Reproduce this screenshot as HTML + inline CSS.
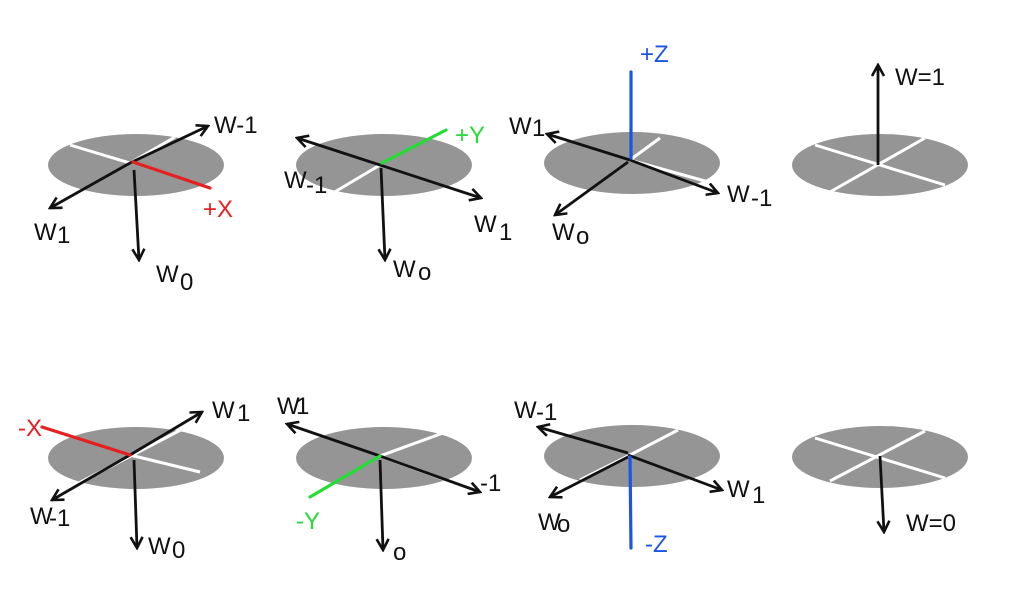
<!DOCTYPE html>
<html><head><meta charset="utf-8"><style>
html,body{margin:0;padding:0;background:#fff;width:1024px;height:601px;overflow:hidden}
svg text{font-family:"Liberation Sans",sans-serif;font-size:24px}
</style></head><body>
<svg width="1024" height="601" viewBox="0 0 1024 601">
<defs>
<marker id="a" viewBox="0 0 14 14" refX="12" refY="7" markerWidth="14" markerHeight="14" markerUnits="userSpaceOnUse" orient="auto">
<path d="M1,1 L12,7 L1,13" fill="none" stroke="#111" stroke-width="2.6"/></marker>
</defs>
<g fill="#959595">
<ellipse cx="136" cy="165" rx="88" ry="31"/>
<ellipse cx="384" cy="165" rx="88" ry="31"/>
<ellipse cx="632" cy="163" rx="88" ry="31"/>
<ellipse cx="880" cy="165" rx="88" ry="31"/>
<ellipse cx="136" cy="458" rx="88" ry="31"/>
<ellipse cx="384" cy="458" rx="88" ry="31"/>
<ellipse cx="632" cy="456" rx="88" ry="31"/>
<ellipse cx="880" cy="457" rx="88" ry="31"/>
</g>
<g stroke="#fff" stroke-width="3">
<line x1="70" y1="145" x2="130" y2="163"/><line x1="130" y1="163" x2="175" y2="137"/>
<line x1="333" y1="193" x2="380" y2="165"/>
<line x1="660" y1="138" x2="630" y2="160"/><line x1="630" y1="160" x2="712" y2="183"/>
<line x1="815" y1="145" x2="945" y2="185"/><line x1="925" y1="138" x2="830" y2="192"/>
<line x1="130" y1="455" x2="200" y2="472"/><line x1="75" y1="485" x2="200" y2="420"/>
<line x1="380" y1="456" x2="465" y2="425"/><line x1="380" y1="456" x2="465" y2="487"/>
<line x1="630" y1="455" x2="678" y2="430"/><line x1="580" y1="480" x2="630" y2="455"/>
<line x1="815" y1="438" x2="945" y2="478"/><line x1="925" y1="431" x2="830" y2="481"/>
</g>
<g stroke="#111" stroke-width="2.8" fill="none" marker-end="url(#a)">
<line x1="130" y1="163" x2="208" y2="126"/>
<line x1="130" y1="163" x2="50" y2="208"/>
<line x1="134" y1="170" x2="139" y2="260"/>
<line x1="380" y1="165" x2="297" y2="138"/>
<line x1="380" y1="165" x2="481" y2="198"/>
<line x1="381" y1="168" x2="385" y2="260"/>
<line x1="630" y1="160" x2="547" y2="134"/>
<line x1="630" y1="160" x2="718" y2="193"/>
<line x1="628" y1="162" x2="555" y2="215"/>
<line x1="878" y1="165" x2="878" y2="65"/>
<line x1="130" y1="455" x2="202" y2="412"/>
<line x1="130" y1="455" x2="52" y2="500"/>
<line x1="134" y1="460" x2="137" y2="548"/>
<line x1="380" y1="456" x2="287" y2="424"/>
<line x1="380" y1="456" x2="480" y2="492"/>
<line x1="380" y1="460" x2="383" y2="550"/>
<line x1="628" y1="453" x2="538" y2="427"/>
<line x1="628" y1="455" x2="722" y2="490"/>
<line x1="628" y1="457" x2="550" y2="497"/>
<line x1="880" y1="456" x2="884" y2="532"/>
</g>
<g stroke-width="3.2" fill="none" stroke-linecap="round">
<line x1="133" y1="162" x2="210" y2="188" stroke="#e62020"/>
<line x1="382" y1="163" x2="446" y2="130" stroke="#22dd33"/>
<line x1="631" y1="158" x2="631" y2="72" stroke="#1a55e6"/>
<line x1="130" y1="455" x2="42" y2="427" stroke="#e62020"/>
<line x1="380" y1="456" x2="310" y2="497" stroke="#22dd33"/>
<line x1="630" y1="457" x2="631" y2="548" stroke="#1a55e6"/>
</g>
<g fill="#111">
<text x="214" y="133">W-1</text>
<text x="34" y="240">W</text><text x="57" y="243" font-size="15">1</text>
<text x="156" y="282">W</text><text x="180" y="290">0</text>
<text x="284" y="188">W</text><text x="306" y="193" font-size="15">-1</text>
<text x="474" y="232">W</text><text x="499" y="240" font-size="15">1</text>
<text x="393" y="277">W</text><text x="418" y="280">o</text>
<text x="509" y="134">W</text><text x="532" y="136" font-size="15">1</text>
<text x="727" y="202">W</text><text x="751" y="206" font-size="15">-1</text>
<text x="552" y="240">W</text><text x="576" y="244" font-size="15">o</text>
<text x="895" y="85">W=1</text>
<text x="212" y="418">W</text><text x="237" y="421" font-size="15">1</text>
<text x="30" y="524" font-size="19">W</text><text x="49" y="526" font-size="15">-1</text>
<text x="148" y="554">W</text><text x="172" y="558">0</text>
<text x="277" y="414" font-size="19">W</text><text x="296" y="414" font-size="15">1</text>
<text x="480" y="491">-1</text>
<text x="393" y="560">o</text>
<text x="514" y="418">W</text><text x="536" y="420" font-size="15">-1</text>
<text x="727" y="497">W</text><text x="752" y="503" font-size="15">1</text>
<text x="538" y="530" font-size="19">W</text><text x="557" y="532" font-size="13">o</text>
<text x="906" y="531" font-size="26">W=0</text>
</g>
<text x="203" y="217" fill="#e62020">+X</text>
<text x="455" y="143" fill="#22dd33">+Y</text>
<text x="640" y="62" fill="#1a55e6">+Z</text>
<text x="18" y="436" fill="#e62020">-X</text>
<text x="296" y="529" fill="#22dd33">-Y</text>
<text x="645" y="552" fill="#1a55e6">-Z</text>
</svg>
</body></html>
